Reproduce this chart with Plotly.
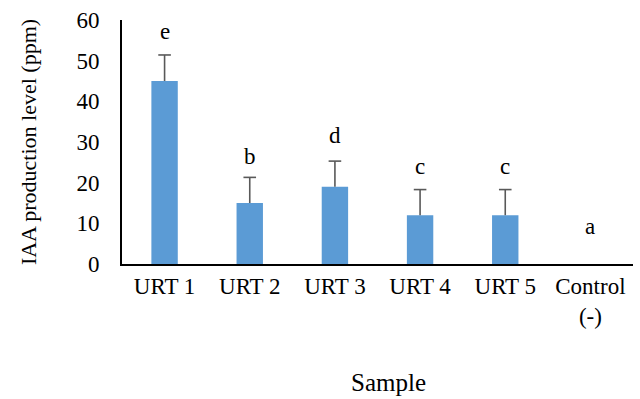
import plotly.graph_objects as go

categories = ["URT 1", "URT 2", "URT 3", "URT 4", "URT 5", "Control<br>(-)"]
values = [45.0, 15.0, 19.0, 12.0, 12.0, 0.0]
errors = [6.4, 6.3, 6.3, 6.3, 6.3, 0.0]
letters = ["e", "b", "d", "c", "c", "a"]
letter_shift = [23, 21, 26, 23, 23, 38]

FONT = "Liberation Serif"
ERR_COLOR = "#595959"

fig = go.Figure()
fig.add_trace(go.Bar(
    x=categories, y=values,
    marker=dict(color="#5B9BD5", line=dict(width=0)),
    width=0.31,
    hoverinfo="x+y",
))

# upper-only error bars: stem drawn downward from the top, cap drawn as a marker
has_err = [e > 0 for e in errors]
err_x = [c for c, h in zip(categories, has_err) if h]
err_top = [v + e for v, e, h in zip(values, errors, has_err) if h]
err_len = [e for e, h in zip(errors, has_err) if h]
fig.add_trace(go.Scatter(
    x=err_x, y=err_top, mode="markers",
    marker=dict(symbol="line-ew", size=9, line=dict(color=ERR_COLOR, width=1.6)),
    error_y=dict(type="data", symmetric=False, array=[0] * len(err_len),
                 arrayminus=err_len, color=ERR_COLOR, thickness=1.6, width=0),
    hoverinfo="skip",
))

for c, v, e, l, s in zip(categories, values, errors, letters, letter_shift):
    fig.add_annotation(x=c, y=v + e, text=l, showarrow=False,
                       yshift=s, font=dict(family=FONT, size=23, color="black"))

fig.add_annotation(text="Sample", xref="paper", yref="paper", x=0.5, y=0,
                   xshift=11, yshift=-134, showarrow=False,
                   font=dict(family=FONT, size=25, color="black"))

fig.update_layout(
    width=640, height=399,
    margin=dict(l=122, r=7, t=20, b=135),
    plot_bgcolor="white", paper_bgcolor="white",
    showlegend=False,
    font=dict(family=FONT, size=23, color="black"),
    xaxis=dict(
        showline=True, linecolor="black", linewidth=2,
        showgrid=False, ticks="",
        tickfont=dict(family=FONT, size=23),
        automargin=False,
    ),
    yaxis=dict(
        range=[0, 60], dtick=10,
        showline=True, linecolor="black", linewidth=2,
        showgrid=False, ticks="", zeroline=False,
        tickfont=dict(family=FONT, size=23),
        ticklabelstandoff=16,
        title=dict(text="IAA production level (ppm)", font=dict(family=FONT, size=22), standoff=34),
        automargin=False,
    ),
)

fig.write_html("out.html", config={"displayModeBar": False},
               post_script="document.body.style.margin='0';")
